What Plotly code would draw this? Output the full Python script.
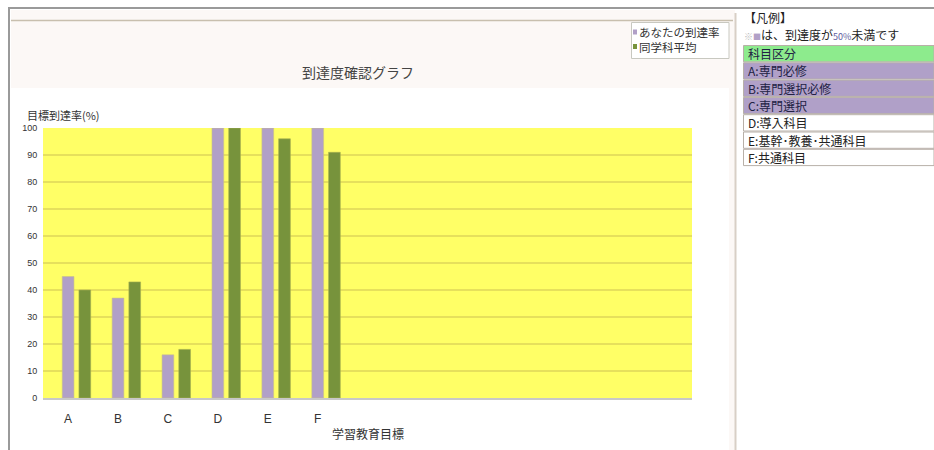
import plotly.graph_objects as go

# ---- data -------------------------------------------------------------
categories = ["A", "B", "C", "D", "E", "F"]
your_rate = [45, 37, 16, 100, 100, 100]      # あなたの到達率
dept_average = [40, 43, 18, 100, 96, 91]     # 同学科平均
y_ticks = [0, 10, 20, 30, 40, 50, 60, 70, 80, 90, 100]

series_names = ["あなたの到達率", "同学科平均"]
chart_title = "到達度確認グラフ"
y_title = "目標到達率(%)"
x_title = "学習教育目標"

legend_heading = "【凡例】"
legend_rows = [
    ("科目区分", "#8DEB8D"),
    ("A:専門必修", "#B0A0C8"),
    ("B:専門選択必修", "#B0A0C8"),
    ("C:専門選択", "#B0A0C8"),
    ("D:導入科目", "#FFFFFF"),
    ("E:基幹･教養･共通科目", "#FFFFFF"),
    ("F:共通科目", "#FFFFFF"),
]

# ---- styling ----------------------------------------------------------
W, H = 934, 450
PL, PR, PT, PB = 43, 692, 128, 398  # plot area in pixels
PURPLE = "#B1A0C7"
GREEN = "#77933C"
PLOT_BG = "#FFFF66"
JP = "Noto Sans CJK JP"
LAT = "Liberation Sans"
N_SLOTS = 13


def px(x):
    return (x - PL) / (PR - PL)


def py(y):
    return (PB - y) / (PB - PT)


x_pos = list(range(len(categories)))

fig = go.Figure()
fig.add_trace(go.Bar(
    x=x_pos, y=your_rate, name=series_names[0],
    width=0.235, offset=-0.115,
    marker=dict(color=PURPLE, line=dict(color="#C9C08A", width=0.6)),
))
fig.add_trace(go.Bar(
    x=x_pos, y=dept_average, name=series_names[1],
    width=0.235, offset=0.22,
    marker=dict(color=GREEN, line=dict(color="#A8B050", width=0.6)),
))

shapes = []
annotations = []


def rect(x0, y0, x1, y1, fill, line=None, lw=0, layer="below"):
    shapes.append(dict(
        type="rect", xref="paper", yref="paper",
        x0=px(x0), x1=px(x1), y0=py(y1), y1=py(y0),
        fillcolor=fill, line=dict(color=line or "rgba(0,0,0,0)", width=lw),
        layer=layer,
    ))


def hline(x0, x1, y, color, w=1, layer="below"):
    shapes.append(dict(type="line", xref="paper", yref="paper",
                       x0=px(x0), x1=px(x1), y0=py(y), y1=py(y),
                       line=dict(color=color, width=w), layer=layer))


def vline(x, y0, y1, color, w=1, layer="below"):
    shapes.append(dict(type="line", xref="paper", yref="paper",
                       x0=px(x), x1=px(x), y0=py(y0), y1=py(y1),
                       line=dict(color=color, width=w), layer=layer))


def text(x, y, s, size=12, color="#333333", xanchor="left", family=JP):
    annotations.append(dict(
        xref="paper", yref="paper", x=px(x), y=py(y), text=s,
        showarrow=False, xanchor=xanchor, yanchor="middle",
        font=dict(family=family, size=size, color=color),
    ))


# chart panel background
rect(11, 10, 735, 450, "#FCF8F6")
rect(11, 88, 729, 450, "#FFFFFF")
# yellow plotting area (sits above the white panel, below the grid)
rect(PL, PT, PR, PB, PLOT_BG)
hline(11, 733, 20.5, "#C8BFAE", 1.5)
vline(735.5, 13, 450, "#D8CFC6", 2)
# outer frame
hline(8, 934, 8, "#9A9A9A", 2)
vline(9, 8, 450, "#9A9A9A", 2)

# chart title
text(358, 72, chart_title, size=14, color="#444444", xanchor="center")

# series legend box
rect(631.5, 22.5, 729, 58.5, "#FFFFFF", "#C8C8C0", 1, layer="above")
for i, (name, col) in enumerate(zip(series_names, [PURPLE, GREEN])):
    yc = 32 + i * 14.5
    rect(633, yc - 2.5, 637, yc + 2.5, col, layer="above")
    text(637, yc, name, size=11.5, color="#333333")

# axis titles
text(25, 115, y_title, size=11, color="#333333")
text(368, 433, x_title, size=12, color="#333333", xanchor="center")

# right-hand key panel
text(742, 18, legend_heading, size=12, color="#222222")
text(742, 35,
     "<span style='color:#BBBBBB;font-size:9px'>※</span>"
     f"<span style='color:{PURPLE};font-size:8px'>■</span>は、到達度が"
     "<span style='font-size:9px;color:#6060A0'>50%</span>未満です",
     size=12, color="#222222")
row_top = 45
row_h = 17.3
for i, (label, fill) in enumerate(legend_rows):
    y0 = row_top + i * row_h
    rect(743.5, y0 + 0.5, 934, y0 + row_h - 0.5, fill, "#B8B0A8", 1)
    text(746, y0 + row_h / 2, label, size=12,
         color="#222244" if fill != "#FFFFFF" else "#222222")

fig.update_layout(
    width=W, height=H,
    margin=dict(l=PL, r=W - PR, t=PT, b=H - PB, pad=0),
    paper_bgcolor="#FFFFFF",
    plot_bgcolor=PLOT_BG,
    barmode="overlay",
    showlegend=False,
    shapes=shapes,
    annotations=annotations,
    xaxis=dict(
        range=[-0.5, N_SLOTS - 0.5],
        tickmode="array", tickvals=x_pos, ticktext=categories,
        ticks="outside", ticklen=9, tickcolor="rgba(0,0,0,0)",
        tickfont=dict(family=LAT, size=12, color="#333333"),
        showgrid=False, zeroline=False,
        showline=True, linecolor="#C8C8C8", linewidth=2,
        fixedrange=True,
    ),
    yaxis=dict(
        range=[0, 100],
        tickmode="array", tickvals=y_ticks,
        ticks="outside", ticklen=3, tickcolor="rgba(0,0,0,0)",
        tickfont=dict(family=LAT, size=9, color="#333333"),
        showgrid=True, gridcolor="#E6E05C", gridwidth=2,
        zeroline=False, showline=False,
        fixedrange=True,
    ),
)

fig.write_html("out.html", config={"displayModeBar": False})
